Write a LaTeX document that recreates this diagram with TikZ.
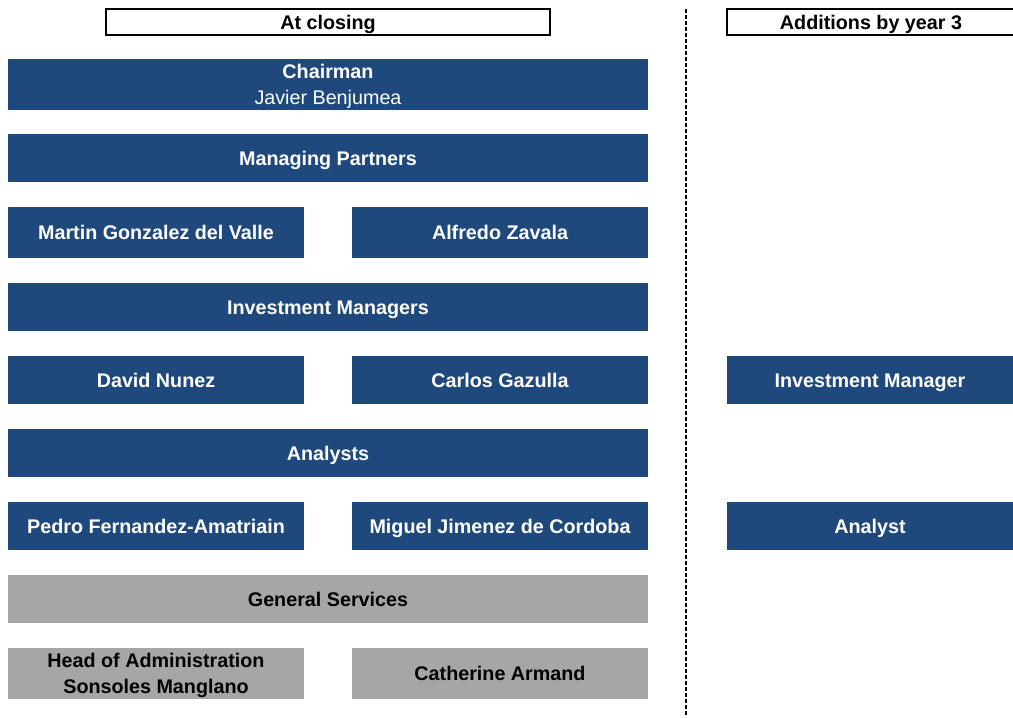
\documentclass[tikz,border=0pt]{standalone}
\usepackage{fontspec}
\setmainfont{Liberation Sans}
\usepackage{tikz}
\usetikzlibrary{calc}

\definecolor{orgblue}{RGB}{31,73,125}
\definecolor{orggrey}{RGB}{166,166,166}
\newcommand{\orgfont}{\fontsize{14.8}{19}\selectfont\bfseries}

\tikzset{
	orgtext/.style={inner sep=0pt, outer sep=0pt, font=\orgfont, align=center, text height=10.6pt, text depth=0pt},
	twoline/.style={text height=29.6pt, minimum height=38.25pt},
	headbox/.style={orgtext, draw=black, line width=1.5pt, fill=white, minimum width=333pt, minimum height=19.5pt},
	bluebox/.style={orgtext, fill=orgblue, text=white, minimum height=36pt},
	greybox/.style={orgtext, fill=orggrey, text=black, minimum height=36pt},
	wide/.style={minimum width=480pt},
	half/.style={minimum width=222pt},
	extra/.style={minimum width=214.5pt}
}

\begin{document}
\begin{tikzpicture}[x=0.75pt, y=-0.75pt]
			\useasboundingbox (0,0) rectangle (1013,717);
			%draw separator
			\coordinate (septop) at (686,9);
			\coordinate (sepbot) at (686,717);
			\draw[line width=1.3pt, dash pattern=on 3pt off 1.5pt] (septop) -- (sepbot);
			%draw column headers
			\node[headbox] (closing) at (328,22) {At closing};
			\node[headbox, minimum width=216pt] (additions) at (871,22) {Additions by year 3};
			%draw full width rows
			\node[bluebox, wide, twoline] (chairman) at (328,84.5) {Chairman\\ \mdseries Javier Benjumea};
			\node[bluebox, wide] (partners) at (328,158) {Managing Partners};
			\node[bluebox, wide] (managers) at (328,307) {Investment Managers};
			\node[bluebox, wide] (analysts) at (328,453) {Analysts};
			\node[greybox, wide] (services) at (328,599) {General Services};
			%draw people
			\node[bluebox, half, minimum height=38.25pt] (gonzalez) at (156,232.5) {Martin Gonzalez del Valle};
			\node[bluebox, half, minimum height=38.25pt] (zavala) at (500,232.5) {Alfredo Zavala};
			\node[bluebox, half] (nunez) at (156,380) {David Nunez};
			\node[bluebox, half] (gazulla) at (500,380) {Carlos Gazulla};
			\node[bluebox, half] (fernandez) at (156,526) {Pedro Fernandez-Amatriain};
			\node[bluebox, half] (jimenez) at (500,526) {Miguel Jimenez de Cordoba};
			\node[greybox, half, twoline] (manglano) at (156,673.5) {Head of Administration\\ Sonsoles Manglano};
			\node[greybox, half, minimum height=38.25pt] (armand) at (500,673.5) {Catherine Armand};
			%draw additions
			\node[bluebox, extra] (newmanager) at (870,380) {Investment Manager};
			\node[bluebox, extra] (newanalyst) at (870,526) {Analyst};
			\end{tikzpicture}
\end{document}
